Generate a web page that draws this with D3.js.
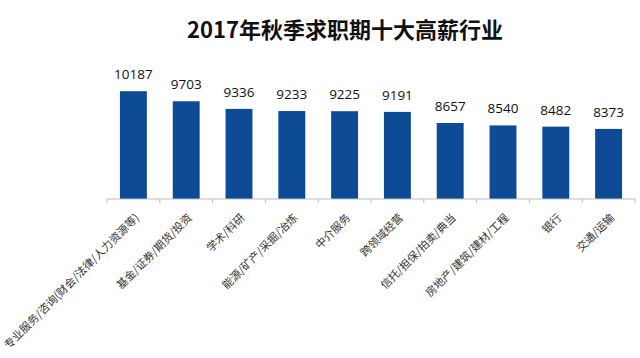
<!DOCTYPE html>
<html>
<head>
<meta charset="utf-8">
<script src="https://cdn.jsdelivr.net/npm/d3@7"></script>
<style>
  body { margin: 0; background: #fff; }
  svg { display: block; }
</style>
</head>
<body>
<div id="chart"></div>
<script>
// 2017 autumn: top ten high-salary industries
const industries = [
  '专业服务/咨询(财会/法律/人力资源等)',
  '基金/证券/期货/投资',
  '学术/科研',
  '能源/矿产/采掘/冶炼',
  '中介服务',
  '跨领域经营',
  '信托/担保/拍卖/典当',
  '房地产/建筑/建材/工程',
  '银行',
  '交通/运输'
]
const salaries = [10187, 9703, 9336, 9233, 9225, 9191, 8657, 8540, 8482, 8373]
const title = '2017年秋季求职期十大高薪行业'

const width = 640, height = 358
const svg = d3.select('#chart').append('svg')
  .attr('width', width)
  .attr('height', height)

const x = d3.scaleBand()
  .domain(industries)
  .range([107, 635])
  .paddingInner(0.49)
  .paddingOuter(0.245)

const y = d3.scaleLinear()
  .domain([5000, 12000])
  .range([199, 199 - 7000 * 0.02078])

svg.append('text')
  .attr('x', 345)
  .attr('y', 38)
  .attr('text-anchor', 'middle')
  .style('font-family', '"Noto Sans CJK SC", sans-serif')
  .style('font-weight', 'bold')
  .style('font-size', '22px')
  .style('fill', '#111')
  .text(title)

// bars
svg.append('g')
  .selectAll('rect')
  .data(salaries)
  .enter().append('rect')
  .attr('x', (d, i) => x(industries[i]))
  .attr('y', d => y(d))
  .attr('width', x.bandwidth())
  .attr('height', d => y.range()[0] - y(d))
  .style('fill', '#0e4b96')

// value labels
svg.append('g')
  .selectAll('text')
  .data(salaries)
  .enter().append('text')
  .attr('x', (d, i) => x(industries[i]) + x.bandwidth() / 2)
  .attr('y', d => y(d) - 12)
  .attr('text-anchor', 'middle')
  .style('font-family', '"Open Sans", sans-serif')
  .style('font-size', '13.5px')
  .style('fill', '#111')
  .text(d => d)

// x axis: ticks sit between bands
const axis = svg.append('g').attr('transform', 'translate(0,' + y.range()[0] + ')')
axis.append('line')
  .attr('x1', 107).attr('x2', 635)
  .style('stroke', '#bdbdbd')
const step = x.step()
axis.selectAll('line.tick')
  .data(d3.range(industries.length + 1))
  .enter().append('line')
  .attr('class', 'tick')
  .attr('x1', i => 107 + i * step)
  .attr('x2', i => 107 + i * step)
  .attr('y1', 0).attr('y2', 4)
  .style('stroke', '#bdbdbd')

axis.selectAll('text')
  .data(industries)
  .enter().append('text')
  .attr('transform', d => 'translate(' + (x(d) + x.bandwidth() / 2 + 1) + ',14)rotate(-45)')
  .attr('text-anchor', 'end')
  .attr('dy', '0.7em')
  .style('font-family', '"Noto Sans CJK SC", sans-serif')
  .style('font-size', '11px')
  .style('fill', '#333')
  .text(d => d)
</script>
</body>
</html>
